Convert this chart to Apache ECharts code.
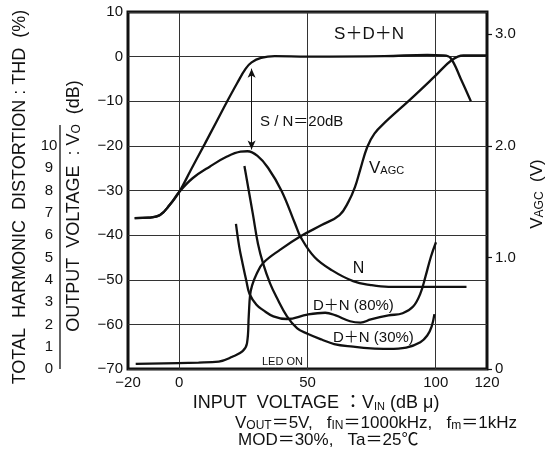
<!DOCTYPE html>
<html><head><meta charset="utf-8">
<script src="https://cdn.jsdelivr.net/npm/echarts@6/dist/echarts.min.js"></script>
<style>html,body{margin:0;padding:0;background:#fff}#c{width:545px;height:454px}</style>
</head><body><div id="c"></div>
<script>
// ---- data ----
const xLabelValues = [-20, 0, 50, 100, 120];
const xGridValues = [0, 50, 100];
const vagcTicks = [0, 1, 2, 3];
const thdTicks = [0, 1, 2, 3, 4, 5, 6, 7, 8, 9, 10];
const snArrow = [28.2, -2.7, -20.8]; // x, top dB, bottom dB

const sdnData = [[-17.4,-36.2],[-12,-36.1],[-7.5,-35.5],[-3.7,-33.2],[0,-30.3],[4.5,-25.4],[9.9,-19.6],[14.3,-14.8],[18.6,-10.1],[22.6,-5.9],[25.9,-2.7],[28.2,-1.3],[31.9,-0.3],[37.2,0.1],[50,0],[80,0.1],[96.7,0.4],[103,0.3],[105.8,-0.3],[109.8,-5],[113.7,-10]];
const nData = [[-17.4,-36.2],[-12,-36.1],[-7.5,-35.5],[-3.7,-33.2],[0,-30.3],[5.3,-27.2],[12,-24.6],[18.6,-22.4],[23.9,-21.3],[26.6,-21.2],[30.6,-22.3],[34.6,-24.9],[39.9,-30.1],[45.2,-37.5],[47.3,-40.4],[52.7,-44.9],[59.6,-47.9],[67.8,-50.3],[74.7,-51.2],[81.6,-51.6],[112,-51.6]];
const dn80Data = [[22.1,-37.5],[23.4,-42.7],[24.7,-46.4],[26.1,-50.1],[27.4,-53.2],[30.1,-55.6],[32.7,-56.8],[36.7,-58.2],[42,-58.8],[50,-57.8],[56.9,-57.4],[61,-58],[66.6,-59.3],[70.7,-59.6],[74.7,-58.9],[81.6,-58],[87.1,-57.5],[91.2,-56],[94,-53.1],[96,-49.3],[98.1,-44.9],[100.1,-41.6]];
const dn30Data = [[25.4,-24.5],[28.7,-35.3],[30.7,-42],[32.7,-46.4],[35.4,-50.8],[38,-54],[42,-58.2],[46,-60.9],[50,-62.1],[55.5,-63.4],[60.4,-64.4],[67.8,-65],[74.7,-65.4],[81.6,-65.5],[88.5,-65.2],[94,-64],[96.7,-62.5],[98.4,-60.5],[99.5,-57.7]];
const vagcData = [[-17,0.046],[7.5,0.058],[15.4,0.067],[20.7,0.11],[24.7,0.16],[26.4,0.23],[27.1,0.48],[27.6,0.66],[28.4,0.75],[30.1,0.85],[32.7,0.95],[39.4,1.07],[47.3,1.19],[55.5,1.29],[62.5,1.38],[66,1.5],[68.5,1.63],[70.6,1.79],[73.3,1.99],[76.1,2.11],[80.2,2.21],[89.8,2.41],[99.5,2.62],[106.3,2.77],[110.8,2.81],[120,2.81]];

// ---- chart ----
const FONT = "'Liberation Sans','Noto Sans CJK JP',sans-serif";
const INK = '#111';
const fmtMinus = v => (v < 0 ? '\u2212' + (-v) : String(v));

const lineSeries = (name, data, yIdx) => ({
  name, type: 'line', data, yAxisIndex: yIdx, symbol: 'none',
  smooth: 0.4, silent: true,
  lineStyle: { color: INK, width: 2.3 }, z: 5
});

const SUB = (sz) => ({ s: { fontSize: sz, fontFamily: FONT, fill: INK, verticalAlign: 'bottom' } });
function txt(x, y, text, size, opts) {
  opts = opts || {};
  return {
    type: 'text', x, y, rotation: opts.rot || 0, silent: true, z: 50,
    style: {
      text, fill: INK, fontSize: size, fontFamily: FONT,
      align: opts.align || 'center', verticalAlign: 'middle',
      textAlign: opts.align || 'center', textVerticalAlign: 'middle',
      rich: opts.rich
    }
  };
}

const chart = echarts.init(document.getElementById('c'), null, { renderer: 'canvas' });
chart.setOption({
  animation: false,
  backgroundColor: '#fff',
  textStyle: { fontFamily: FONT, color: INK },
  grid: { left: 128, right: 58, top: 12, bottom: 85, show: true, borderWidth: 3, borderColor: INK },
  xAxis: {
    type: 'value', min: -20, max: 120, interval: 10,
    axisLine: { show: false }, axisTick: { show: false }, splitLine: { show: false },
    axisLabel: { customValues: xLabelValues, formatter: fmtMinus, color: INK, fontSize: 15, margin: 6, fontFamily: FONT }
  },
  yAxis: [
    {
      type: 'value', min: -70, max: 10, interval: 10, position: 'left',
      axisLine: { show: false }, axisTick: { show: false },
      splitLine: { show: true, lineStyle: { color: '#333', width: 1 } },
      axisLabel: { formatter: fmtMinus, color: INK, fontSize: 15, margin: 5, fontFamily: FONT }
    },
    {
      type: 'value', min: 0, max: 3.2, position: 'right',
      axisLine: { show: false },
      axisTick: { show: true, customValues: vagcTicks, length: 5, lineStyle: { color: INK, width: 1.2 } },
      splitLine: { show: false },
      axisLabel: { customValues: vagcTicks, formatter: v => (v === 0 ? '0' : v.toFixed(1)), color: INK, fontSize: 15, margin: 8, fontFamily: FONT }
    },
    {
      type: 'value', min: 0, max: 16, position: 'left', offset: 68,
      axisLine: { show: false }, axisTick: { show: false }, splitLine: { show: false },
      axisLabel: { customValues: thdTicks, color: INK, fontSize: 15, margin: 11, align: 'center', fontFamily: FONT }
    }
  ],
  series: [
    Object.assign(lineSeries('S+D+N', sdnData, 0), {
      markLine: {
        silent: true, symbol: ['none', 'none'], label: { show: false },
        lineStyle: { color: '#333', width: 1, type: 'solid' },
        data: xGridValues.map(v => ({ xAxis: v }))
      }
    }),
    lineSeries('N', nData, 0),
    lineSeries('D+N (80%)', dn80Data, 0),
    lineSeries('D+N (30%)', dn30Data, 0),
    lineSeries('VAGC', vagcData, 1),
    {
      type: 'line', data: [], yAxisIndex: 0, silent: true,
      markLine: {
        silent: true, symbol: ['arrow', 'arrow'], symbolSize: [6, 9], label: { show: false },
        lineStyle: { color: INK, width: 1, type: 'solid' },
        data: [[{ coord: [snArrow[0], snArrow[1]] }, { coord: [snArrow[0], snArrow[2]] }]]
      }
    }
  ],
  graphic: [
    { type: 'line', silent: true, shape: { x1: 60, y1: 125, x2: 60, y2: 369 }, style: { stroke: INK, lineWidth: 1.3 } },
    txt(20, 197, 'TOTAL  HARMONIC  DISTORTION : THD  (%)', 18, { rot: Math.PI / 2 }),
    txt(74, 206, 'OUTPUT  VOLTAGE  : V{s|O}  (dB)', 18, { rot: Math.PI / 2, rich: SUB(12) }),
    txt(537, 194, 'V{s|AGC}  (V)', 17, { rot: Math.PI / 2, rich: SUB(12) }),
    txt(369, 34, 'S\uFF0BD\uFF0BN', 17),
    txt(260, 122, 'S / N\uFF1D20dB', 15, { align: 'left' }),
    txt(369, 168, 'V{s|AGC}', 17, { align: 'left', rich: SUB(11) }),
    txt(358.5, 268.5, 'N', 16),
    txt(313, 305.5, 'D\uFF0BN (80%)', 15, { align: 'left' }),
    txt(333, 337.5, 'D\uFF0BN (30%)', 15, { align: 'left' }),
    txt(262, 362, 'LED ON', 11, { align: 'left' }),
    txt(316, 403, 'INPUT  VOLTAGE \uFF1AV{s|IN} (dB \u03BC)', 18, { rich: SUB(11) }),
    txt(235, 423, 'V{s|OUT}\uFF1D5V,   f{s|IN}\uFF1D1000kHz,   f{s|m}\uFF1D1kHz', 17, { align: 'left', rich: SUB(12) }),
    txt(238, 440, 'MOD\uFF1D30%,   Ta\uFF1D25\u2103', 17, { align: 'left' })
  ]
});
</script>
</body></html>
